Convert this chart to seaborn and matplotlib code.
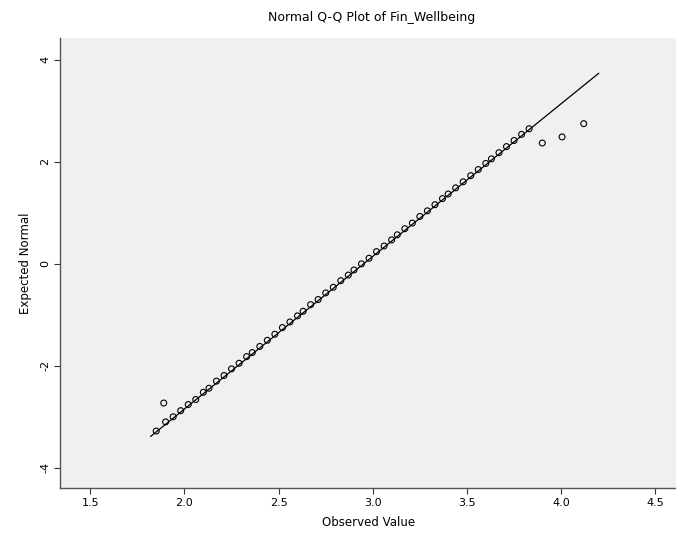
import matplotlib
matplotlib.use("Agg")
import matplotlib.pyplot as plt
import seaborn as sns
import numpy as np
import pandas as pd

# ---- data ----
observed = [1.85, 1.89, 1.90, 1.94, 1.98, 2.02, 2.06, 2.10, 2.13, 2.17, 2.21, 2.25,
            2.29, 2.33, 2.36, 2.40, 2.44, 2.48, 2.52, 2.56, 2.60, 2.63, 2.67,
            2.71, 2.75, 2.79, 2.83, 2.87, 2.90, 2.94, 2.98, 3.02, 3.06, 3.10,
            3.13, 3.17, 3.21, 3.25, 3.29, 3.33, 3.37, 3.40, 3.44, 3.48, 3.52,
            3.56, 3.60, 3.63, 3.67, 3.71, 3.75, 3.79, 3.83, 3.90, 4.005, 4.12]
expected = [-3.28, -2.73, -3.10, -3.00, -2.88, -2.76, -2.66, -2.52, -2.44, -2.30, -2.19, -2.06,
            -1.95, -1.82, -1.74, -1.62, -1.50, -1.38, -1.25, -1.14, -1.02, -0.93, -0.80,
            -0.70, -0.57, -0.46, -0.33, -0.22, -0.12, 0.00, 0.11, 0.24, 0.35, 0.47,
            0.57, 0.69, 0.80, 0.93, 1.04, 1.16, 1.28, 1.37, 1.49, 1.61, 1.73,
            1.85, 1.97, 2.06, 2.18, 2.30, 2.42, 2.54, 2.65, 2.37, 2.49, 2.75]
line_mean = 2.951
line_sd = 0.334
line_x = [1.82, 4.20]

x_ticks = [1.5, 2.0, 2.5, 3.0, 3.5, 4.0, 4.5]
x_ticklabels = ["1.5", "2.0", "2.5", "3.0", "3.5", "4.0", "4.5"]
y_ticks = [-4, -2, 0, 2, 4]
y_ticklabels = ["-4", "-2", "0", "2", "4"]

title = "Normal Q-Q Plot of Fin_Wellbeing"
xlabel = "Observed Value"
ylabel = "Expected Normal"

# ---- plotting ----
sns.set_style("white")
plt.rcParams['font.family'] = ['DejaVu Sans']
plt.rcParams['text.color'] = 'black'
plt.rcParams['axes.labelcolor'] = 'black'
plt.rcParams['xtick.color'] = 'black'
plt.rcParams['ytick.color'] = 'black'

fig = plt.figure(figsize=(6.76, 5.43), dpi=100)
ax = fig.add_axes([0.089, 0.101, 0.911, 0.829])
ax.set_facecolor("#f0f0f0")

pts = pd.DataFrame({"observed": observed, "expected": expected})
line_df = pd.DataFrame({"x": line_x,
                        "y": [(v - line_mean) / line_sd for v in line_x]})

sns.lineplot(data=line_df, x="x", y="y", color="black", linewidth=0.9, ax=ax)
sns.scatterplot(data=pts, x="observed", y="expected", marker="o",
                facecolors="none", edgecolor="black", s=18, linewidth=0.8, ax=ax)

ax.set_xlim(1.34, 4.61)
ax.set_ylim(-4.4, 4.43)
ax.set_xticks(x_ticks)
ax.set_xticklabels(x_ticklabels, fontsize=8)
ax.set_yticks(y_ticks)
ax.set_yticklabels(y_ticklabels, fontsize=8, rotation=90, va="center")
ax.tick_params(axis="both", direction="out", length=4, width=0.8, color="#333333",
               bottom=True, left=True, pad=3)

for s in ["top", "right"]:
    ax.spines[s].set_visible(False)
for s in ["left", "bottom"]:
    ax.spines[s].set_color("#555555")
    ax.spines[s].set_linewidth(1.0)

ax.set_xlabel(xlabel, fontsize=8.5, labelpad=6)
ax.set_ylabel(ylabel, fontsize=8.5, labelpad=6)
fig.text(0.55, 0.968, title, ha="center", va="center", fontsize=9)

fig.savefig("out.png", dpi=100)
